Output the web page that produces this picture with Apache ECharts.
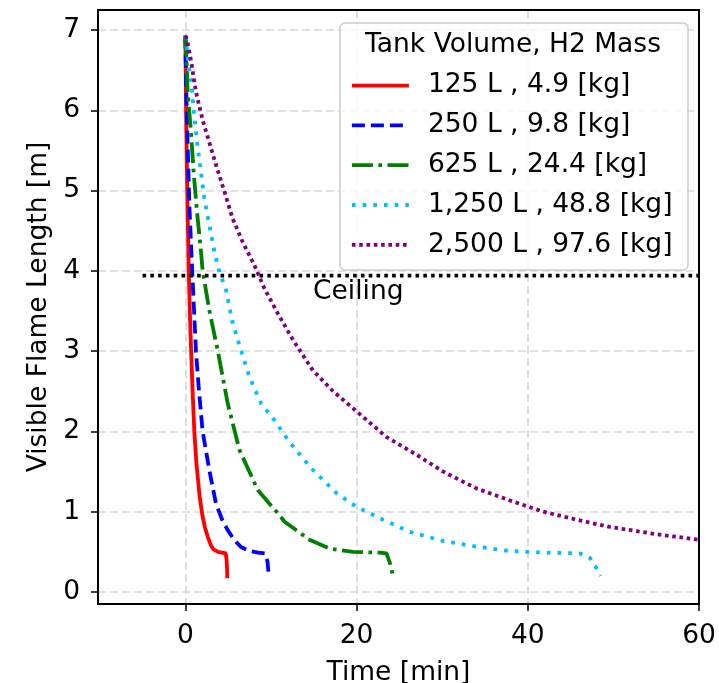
<!DOCTYPE html>
<html><head><meta charset="utf-8">
<script src="https://cdn.jsdelivr.net/npm/echarts@6/dist/echarts.min.js"></script>
<style>html,body{margin:0;padding:0;background:#fff}#c{width:719px;height:683px}</style>
</head><body><div id="c"></div>
<script>
// ---- data ----
const xTicks = [0, 20, 40, 60];
const yTicks = [0, 1, 2, 3, 4, 5, 6, 7];
const seriesNames = ['125 L , 4.9 [kg]', '250 L , 9.8 [kg]', '625 L , 24.4 [kg]', '1,250 L , 48.8 [kg]', '2,500 L , 97.6 [kg]'];

const t125 = [0, 0.05, 0.1, 0.2, 0.3, 0.4, 0.55, 0.68, 0.85, 1.05, 1.3, 1.66, 2.0, 2.3, 2.64, 3.0, 3.3, 3.8, 4.3, 4.72, 4.82, 4.88, 4.9];
const v125 = [6.93, 6.45, 5.9, 5.15, 4.55, 4.0, 3.4, 3.0, 2.5, 2.0, 1.6, 1.2, 0.95, 0.8, 0.68, 0.58, 0.53, 0.50, 0.49, 0.48, 0.40, 0.28, 0.17];

const t250 = [0, 0.1, 0.2, 0.47, 0.8, 1.24, 1.6, 2.02, 2.8, 3.58, 4.3, 4.95, 5.7, 6.5, 7.5, 8.5, 9.3, 9.6, 9.75];
const v250 = [6.93, 6.3, 5.85, 4.82, 4.0, 3.0, 2.5, 2.0, 1.52, 1.1, 0.9, 0.77, 0.65, 0.56, 0.51, 0.49, 0.48, 0.38, 0.19];

const t625 = [0, 0.1, 0.27, 0.66, 0.97, 1.36, 1.83, 2.02, 2.8, 3.78, 4.95, 6.32, 8.46, 10.8, 11.6, 14.5, 16.9, 19.6, 22.7, 23.5, 23.9, 24.2];
const v625 = [6.93, 6.75, 6.23, 5.73, 5.23, 4.74, 4.24, 4.0, 3.51, 3.01, 2.35, 1.77, 1.27, 0.98, 0.875, 0.65, 0.54, 0.50, 0.49, 0.48, 0.36, 0.23];

const t1250 = [0, 0.35, 0.74, 1.0, 1.36, 1.83, 2.22, 2.8, 3.39, 3.98, 4.75, 5.53, 6.5, 7.49, 8.84, 10.4, 11.77, 12.6, 14.9, 17.66, 20.0, 23.1, 26.2, 30.1, 34.0, 37.9, 41.8, 46.1, 47.3, 48.0, 48.5];
const v1250 = [6.93, 6.6, 6.3, 5.98, 5.61, 5.23, 4.90, 4.57, 4.24, 3.99, 3.76, 3.35, 3.01, 2.68, 2.35, 2.14, 1.93, 1.81, 1.52, 1.23, 1.06, 0.90, 0.75, 0.635, 0.565, 0.51, 0.49, 0.48, 0.42, 0.30, 0.20];

const t2500 = [0, 0.19, 0.66, 1.24, 2.02, 2.8, 3.58, 4.56, 5.53, 6.7, 8.07, 9.24, 10.8, 12.58, 14.9, 17.26, 20.0, 23.5, 27.0, 30.1, 34.0, 37.9, 41.8, 45.7, 49.6, 55.0, 60.0];
const v2500 = [6.93, 6.88, 6.62, 6.23, 5.88, 5.6, 5.32, 4.99, 4.65, 4.36, 4.07, 3.78, 3.47, 3.14, 2.76, 2.5, 2.25, 1.93, 1.71, 1.50, 1.29, 1.14, 1.0, 0.90, 0.81, 0.72, 0.65];

const ceilingT = [-5, 60];
const ceilingV = [3.94, 3.94];
const ceilingLabel = 'Ceiling';
const ceilingLabelPos = [20.2, 3.74];

const legendTitle = 'Tank Volume, H2 Mass';

// ---- styles ----
const FONT = 'DejaVu Sans';
const FS = 26.5;
const LW = 3.8;
const colors = ['#ff0000', '#0000ff', '#008000', '#00bfff', '#800080'];
const dashes = ['solid', [13, 6], [21, 5.5, 3.6, 5.5], [3.7, 7.0], [3.6, 3.7]];
const allT = [t125, t250, t625, t1250, t2500];
const allV = [v125, v250, v625, v1250, v2500];

function zip(a, b) { return a.map((x, i) => [x, b[i]]); }

const series = seriesNames.map((n, i) => ({
  name: n, type: 'line', data: zip(allT[i], allV[i]),
  symbol: 'none', showSymbol: false, smooth: false, z: 3,
  lineStyle: { color: colors[i], width: LW, type: dashes[i], cap: 'butt' },
  itemStyle: { color: colors[i] }
}));
series.push({
  name: 'ceiling', type: 'line', data: zip(ceilingT, ceilingV), symbol: 'none', z: 3,
  lineStyle: { color: '#000', width: LW, type: [3.6, 4.2] }
});
series.push({
  name: 'ceilingLabel', type: 'scatter', data: [ceilingLabelPos], symbolSize: 0, z: 3,
  itemStyle: { opacity: 1 },
  label: { show: true, position: 'inside', formatter: ceilingLabel, fontFamily: FONT, fontSize: FS, color: '#000', opacity: 1 }
});

const chart = echarts.init(document.getElementById('c'), null, { renderer: 'canvas' });
const gridLine = { show: true, lineStyle: { color: '#d9d9d9', width: 1.7, type: [8, 4] } };
chart.setOption({
  animation: false,
  backgroundColor: '#fff',
  grid: { left: 98, right: 20, top: 10, bottom: 79, show: false, containLabel: false, outerBoundsMode: 'none' },
  xAxis: {
    type: 'value', min: -10.2, max: 60,
    name: 'Time [min]', nameLocation: 'middle', nameGap: 56,
    nameTextStyle: { fontFamily: FONT, fontSize: FS, color: '#000' },
    axisLine: { show: true, onZero: false, lineStyle: { color: '#000', width: 2 } },
    axisTick: { show: true, customValues: xTicks, length: 7, lineStyle: { color: '#000', width: 1.5 } },
    axisLabel: { show: true, customValues: xTicks, margin: 19, fontFamily: FONT, fontSize: FS, color: '#000' },
    splitLine: gridLine
  },
  yAxis: {
    type: 'value', min: -0.15, max: 7.25,
    name: 'Visible Flame Length [m]', nameLocation: 'middle', nameGap: 45, nameRotate: 90,
    nameTextStyle: { fontFamily: FONT, fontSize: FS, color: '#000' },
    axisLine: { show: true, onZero: false, lineStyle: { color: '#000', width: 2 } },
    axisTick: { show: true, customValues: yTicks, length: 7, lineStyle: { color: '#000', width: 1.5 } },
    axisLabel: { show: true, customValues: yTicks, margin: 18, fontFamily: FONT, fontSize: FS, color: '#000' },
    splitLine: gridLine
  },
  legend: {
    data: seriesNames, orient: 'vertical', left: 350, top: 70.6, padding: 0,
    itemWidth: 57, itemHeight: 30, itemGap: 9.8,
    textStyle: { fontFamily: FONT, fontSize: FS, color: '#000', lineHeight: 30, padding: [0, 0, 0, 14] },
    itemStyle: { opacity: 0 },
    lineStyle: { width: LW, cap: 'butt' },
    selectedMode: false
  },
  graphic: [
    { type: 'rect', z: 3, shape: { x: 340, y: 23, width: 348, height: 247, r: 5 },
      style: { fill: 'rgba(255,255,255,0.8)', stroke: '#cccccc', lineWidth: 1.5 } },
    { type: 'text', z: 5, x: 513, y: 45.3,
      style: { text: legendTitle, fontFamily: FONT, fontSize: FS, fill: '#000', align: 'center', verticalAlign: 'middle' } },
    { type: 'rect', z: 10, silent: true, shape: { x: 98, y: 10, width: 601, height: 594 },
      style: { fill: 'none', stroke: '#000', lineWidth: 2 } }
  ],
  series: series
});
</script>
</body></html>
